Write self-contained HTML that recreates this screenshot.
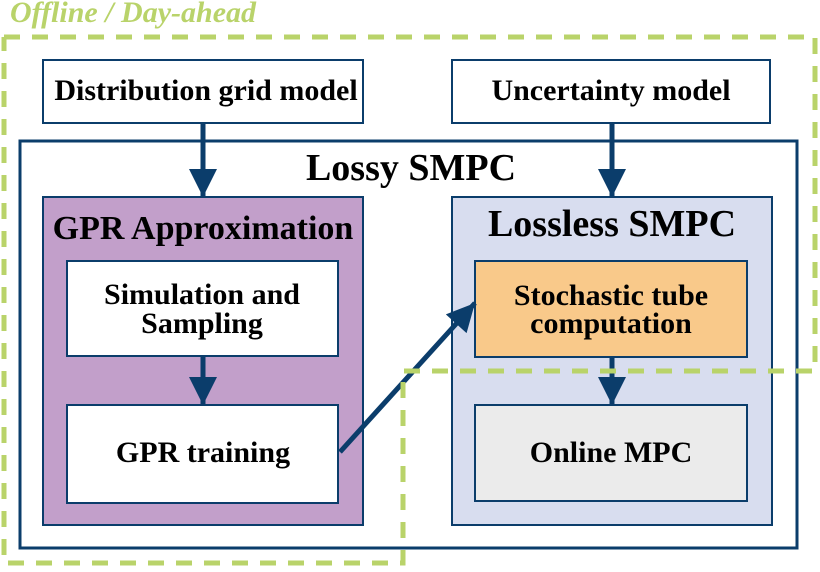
<!DOCTYPE html>
<html><head><style>body{margin:0;background:#fff}svg text{font-family:"Liberation Serif",serif;font-weight:bold;fill:#000;text-anchor:middle}</style></head><body>
<svg width="820" height="567" viewBox="0 0 820 567" xmlns="http://www.w3.org/2000/svg">
<defs><marker id="b" viewBox="0 0 10 10" refX="10" refY="5" markerWidth="30" markerHeight="28" orient="auto" markerUnits="userSpaceOnUse"><path d="M0,0 L10,5 L0,10 z" fill="#0b3d6b"/></marker></defs>
<rect x="20" y="141" width="777" height="407" fill="#fff" stroke="#0b3d6b" stroke-width="3"/>
<rect x="43" y="60" width="320" height="63" fill="#fff" stroke="#0b3d6b" stroke-width="2"/>
<rect x="452" y="60" width="318" height="63" fill="#fff" stroke="#0b3d6b" stroke-width="2"/>
<rect x="43" y="197" width="320" height="328" fill="#c29fca" stroke="#0b3d6b" stroke-width="2"/>
<rect x="452" y="197" width="320" height="328" fill="#d8ddef" stroke="#0b3d6b" stroke-width="2"/>
<rect x="67" y="261" width="271" height="95" fill="#fff" stroke="#0b3d6b" stroke-width="2"/>
<rect x="67" y="405" width="271" height="98" fill="#fff" stroke="#0b3d6b" stroke-width="2"/>
<rect x="475" y="261" width="272" height="96" fill="#f9c98a" stroke="#0b3d6b" stroke-width="2"/>
<rect x="475" y="405" width="272" height="96" fill="#ebebeb" stroke="#0b3d6b" stroke-width="2"/>
<g stroke="#0b3d6b" stroke-width="5" fill="none">
<line x1="203" y1="123" x2="203" y2="197" marker-end="url(#b)"/>
<line x1="612" y1="123" x2="612" y2="197" marker-end="url(#b)"/>
<line x1="203" y1="356" x2="203" y2="405" marker-end="url(#b)"/>
<line x1="612" y1="357" x2="612" y2="405" marker-end="url(#b)"/>
<line x1="340" y1="452" x2="475" y2="303" marker-end="url(#b)"/>
</g>
<polyline points="4,37 815,37 815,371 403,371 403,563 4,563 4,37" fill="none" stroke="#b9d36a" stroke-width="5" stroke-dasharray="16,12"/>
<text x="133" y="22" style="font-style:italic;fill:#b9d36a" font-size="30">Offline / Day-ahead</text>
<text x="206" y="100" font-size="30">Distribution grid model</text>
<text x="611" y="100" font-size="30">Uncertainty model</text>
<text x="411" y="180" font-size="38">Lossy SMPC</text>
<text x="203" y="239" font-size="34">GPR Approximation</text>
<text x="612" y="236" font-size="38">Lossless SMPC</text>
<text x="202" y="304" font-size="30">Simulation and</text>
<text x="202" y="333" font-size="30">Sampling</text>
<text x="203" y="462" font-size="30">GPR training</text>
<text x="611" y="305" font-size="30">Stochastic tube</text>
<text x="611" y="333" font-size="30">computation</text>
<text x="611" y="462" font-size="30">Online MPC</text>
</svg>
</body></html>
